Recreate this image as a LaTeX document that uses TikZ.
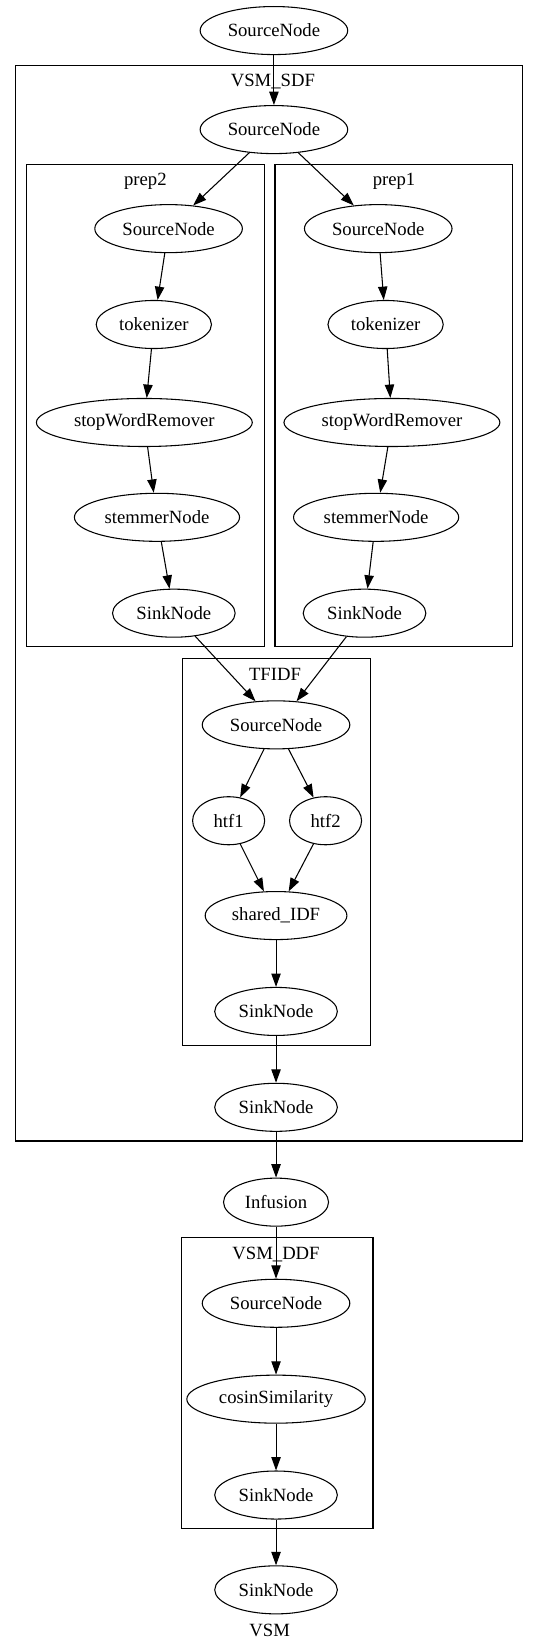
\documentclass[tikz,border=0pt]{standalone}
\usepackage{fontspec}
\setmainfont{Liberation Serif}
\usetikzlibrary{arrows.meta,shapes.geometric}

\tikzset{
  gvnode/.style={draw, ellipse, minimum width=54pt, minimum height=36pt,
    inner xsep=4.5pt, inner ysep=2pt, font=\fontsize{14}{16}\selectfont},
  gvlabel/.style={inner sep=0pt, anchor=base, font=\fontsize{14}{16}\selectfont},
  clusterbox/.style={draw, -}
}

\begin{document}
\begin{tikzpicture}[->, >={Triangle[length=10pt,width=7pt]},
    x=0.7896pt, y=-0.7896pt, line width=0.8pt]
              \useasboundingbox (0,0) rectangle (512,1568);

              % clusters
              \draw[clusterbox] (15,62)   rectangle (496,1083);
              \draw[clusterbox] (25,156)  rectangle (251,614);
              \draw[clusterbox] (261,156) rectangle (486,614);
              \draw[clusterbox] (173,625) rectangle (352,992);
              \draw[clusterbox] (172,1175) rectangle (354,1451);

              \node[gvlabel] (LSDF)  at (259,82)   {VSM\_SDF};
              \node[gvlabel] (LP2)   at (138,176)  {prep2};
              \node[gvlabel] (LP1)   at (374,176)  {prep1};
              \node[gvlabel] (LTF)   at (261,646)  {TFIDF};
              \node[gvlabel] (LDDF)  at (262,1195) {VSM\_DDF};
              \node[gvlabel] (LVSM)  at (256,1553) {VSM};

              \node[gvnode] (S0) at (260, 29)   {SourceNode};
              \node[gvnode] (A1) at (260, 123)  {SourceNode};

              \node[gvnode] (L1) at (160, 217)  {SourceNode};
              \node[gvnode] (L2) at (146, 308)  {tokenizer};
              \node[gvnode] (L3) at (137, 401)  {stopWordRemover};
              \node[gvnode] (L4) at (149, 491)  {stemmerNode};
              \node[gvnode] (L5) at (165, 582)  {SinkNode};

              \node[gvnode] (R1) at (359, 217)  {SourceNode};
              \node[gvnode] (R2) at (366, 308)  {tokenizer};
              \node[gvnode] (R3) at (372, 401)  {stopWordRemover};
              \node[gvnode] (R4) at (357, 491)  {stemmerNode};
              \node[gvnode] (R5) at (346, 582)  {SinkNode};

              \node[gvnode] (T1) at (262, 688)  {SourceNode};
              \node[gvnode] (T2) at (217, 779)  {htf1};
              \node[gvnode] (T3) at (309, 779)  {htf2};
              \node[gvnode] (T4) at (262, 869)  {shared\_IDF};
              \node[gvnode] (T5) at (262, 960)  {SinkNode};

              \node[gvnode] (A2) at (262, 1051) {SinkNode};
              \node[gvnode] (I1) at (262, 1141) {Infusion};

              \node[gvnode] (D1) at (262, 1237) {SourceNode};
              \node[gvnode] (D2) at (262, 1328) {cosinSimilarity};
              \node[gvnode] (D3) at (262, 1419) {SinkNode};
              \node[gvnode] (K1) at (262, 1509) {SinkNode};

              \path (S0) edge (A1);
              \path (A1) edge (L1);
              \path (A1) edge (R1);

              \path (L1) edge (L2);
              \path (L2) edge (L3);
              \path (L3) edge (L4);
              \path (L4) edge (L5);

              \path (R1) edge (R2);
              \path (R2) edge (R3);
              \path (R3) edge (R4);
              \path (R4) edge (R5);

              \path (L5) edge (T1.131);
              \path (R5) edge (T1.49);
              \path (T1) edge (T2);
              \path (T1) edge (T3);
              \path (T2) edge (T4);
              \path (T3) edge (T4);
              \path (T4) edge (T5);

              \path (T5) edge (A2);
              \path (A2) edge (I1);
              \path (I1) edge (D1);
              \path (D1) edge (D2);
              \path (D2) edge (D3);
              \path (D3) edge (K1);
          \end{tikzpicture}
\end{document}
